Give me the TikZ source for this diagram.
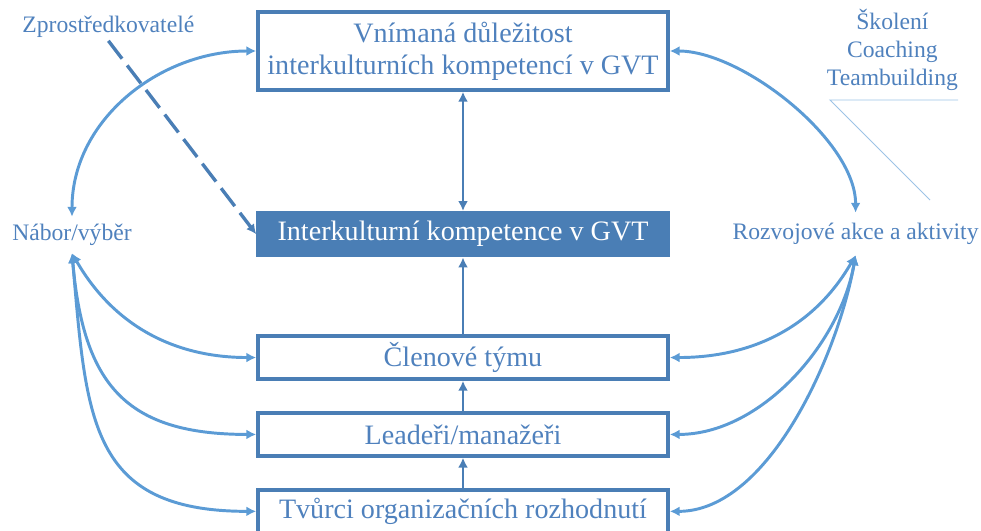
\documentclass[tikz,border=0pt]{standalone}
\usepackage{fontspec}
\setmainfont{Liberation Serif}
\usepackage{tikz}
\usetikzlibrary{arrows.meta, positioning}
\definecolor{colorBox}{RGB}{74,126,181}
\definecolor{colorText}{RGB}{79,129,189}
\definecolor{colorLink}{RGB}{91,155,213}
\definecolor{colorCallout}{RGB}{157,195,230}
\tikzset{
  box/.style={draw=colorBox, line width=2.5pt, minimum width=10.25cm, minimum height=1.075cm, inner sep=0pt, align=center, text=colorText, font=\fontsize{20}{23}\selectfont},
  boxDark/.style={box, fill=colorBox, text=white},
  side/.style={inner sep=0pt, align=center, text=colorText, font=\fontsize{16.8}{20}\selectfont},
  link/.style={<->, colorLink, line width=2.1pt},
  flow/.style={colorBox, line width=2.1pt},
  hint/.style={->, colorBox, line width=2.4pt, dash pattern=on 16pt off 6pt},
  callout/.style={colorCallout, line width=0.6pt}
}

\begin{document}
\begin{tikzpicture}[>={Latex[length=7pt, width=7pt]}, node distance=0.76cm]
\useasboundingbox (0,0) rectangle (24.525,-13.275);
% stredni sloupec
\node[box, minimum height=1.95cm] (vnim) at (11.575,-1.275) {Vnímaná důležitost\\interkulturních kompetencí v GVT};
\node[boxDark, below=2.98cm of vnim] (ik) {Interkulturní kompetence v GVT};
\node[box, below=1.92cm of ik] (clen) {Členové týmu};
\node[box, below=of clen] (lead) {Leadeři/manažeři};
\node[box, below=of lead] (tvur) {Tvůrci organizačních rozhodnutí};

% popisky po stranach
\node[side, minimum height=0.9cm] (nabor) at (1.8,-5.875) {Nábor/výběr};
\node[side, minimum height=1.05cm] (rozv) at (21.39,-5.85) {Rozvojové akce a aktivity};
\node[side, inner sep=2pt] (zpr) at (2.71,-0.675) {Zprostředkovatelé};
\node[side] (skol) at (22.31,-1.25) {Školení\\Coaching\\Teambuilding};
\coordinate (skolL) at (20.75,-2.5);
\coordinate (skolR) at (23.95,-2.5);
\coordinate (skolEnd) at (23.25,-5.0);

% sipky mezi boxy
\draw [<->, flow] (vnim) -- (ik);
\draw [->, flow] (clen) -- (ik);
\draw [->, flow] (lead) -- (clen);
\draw [->, flow] (tvur) -- (lead);

% oblouky vlevo a vpravo
\draw [link] (nabor.north) to [out=90, in=180] (vnim.west);
\draw [link] (rozv.north) to [out=90, in=0, looseness=0.75] (vnim.east);
\foreach \b/\l/\ll/\r/\rl in {clen/-60/1/240/1, lead/-85/1.3/260/0.9, tvur/-85/1.35/260/0.8} {
  \draw [link] (nabor.south) to [out=\l, in=180, looseness=\ll] (\b.west);
  \draw [link] (rozv.south) to [out=\r, in=0, looseness=\rl] (\b.east);
}

\draw [hint] (zpr.south) -- (ik.west);
\draw [callout] (skolR) -- (skolL) -- (skolEnd);
\end{tikzpicture}
\end{document}
